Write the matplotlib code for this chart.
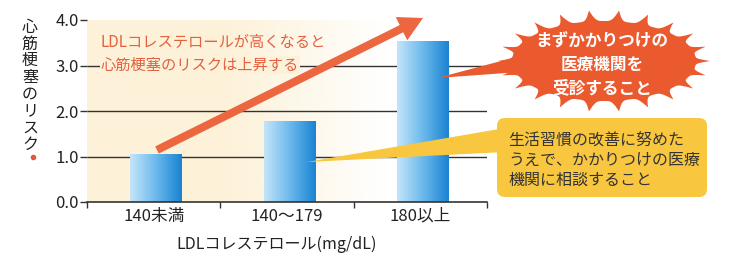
import numpy as np
import matplotlib
matplotlib.use("Agg")
import matplotlib.pyplot as plt
from matplotlib.colors import LinearSegmentedColormap
from matplotlib.patches import Polygon, FancyBboxPatch, FancyArrow

plt.rcParams['font.family'] = ['Noto Sans CJK JP', 'DejaVu Sans']

# data
categories = ['140未満', '140～179', '180以上']
risk = [1.05, 1.78, 3.52]
yticks = [0.0, 1.0, 2.0, 3.0, 4.0]
gridlines = [1.0, 2.0, 3.0]
ylabel = '心筋梗塞のリスク'
xlabel = 'LDLコレステロール(mg/dL)'
arrow_text = ['LDLコレステロールが高くなると', '心筋梗塞のリスクは上昇する']
burst_text = ['まずかかりつけの', '医療機関を', '受診すること']
note_text = ['生活習慣の改善に努めた', 'うえで、かかりつけの医療', '機関に相談すること']

W, H = 740, 265
CREAM = '#fdf2d9'
DARK = '#333333'
ORANGE = '#ec6640'
BURST = '#ea5a2e'
YELLOW = '#f8c73f'


def px(x0, y0, x1, y1):
    """pixel box (top-left origin) -> figure rect"""
    return [x0 / W, 1 - y1 / H, (x1 - x0) / W, (y1 - y0) / H]


fig = plt.figure(figsize=(W / 100, H / 100), dpi=100)
ax = fig.add_axes(px(87, 20, 487, 202))

# cream background fading to white on the right
g = np.linspace(0, 1, 400)
bg = np.ones((1, g.size, 4))
bg[..., :3] = matplotlib.colors.to_rgb(CREAM)
bg[0, :, 3] = np.clip((0.75 - g) / 0.4, 0, 1)
ax.imshow(bg, extent=[0, 1, 0, 1], transform=ax.transAxes, aspect='auto', zorder=0)

# gridlines behind bars
ax.hlines(gridlines, -0.5, 2.5, color=DARK, lw=1, zorder=1)

# bars with horizontal blue gradient
x = np.arange(len(categories))
bars = ax.bar(x + 0.02, risk, width=0.39, color='none', zorder=2)
cmap = LinearSegmentedColormap.from_list('bar', ['#c4e5fa', '#6bb9ec', '#1a83d1'])
grad = np.linspace(0, 1, 128).reshape(1, -1)
for b in bars:
    x0, w, h = b.get_x(), b.get_width(), b.get_height()
    ax.imshow(grad, cmap=cmap, extent=[x0, x0 + w, 0, h], aspect='auto', zorder=2)

ax.set_xlim(-0.5, 2.5)
ax.set_ylim(0, 4)

ax.set_yticks(yticks, labels=[f'{v:.1f}' for v in yticks])
ax.tick_params(axis='y', length=5, width=1, color=DARK, labelsize=12,
               labelcolor='#222222', pad=1)
ax.set_xticks(x, categories)
ax.tick_params(axis='x', which='major', length=0, labelsize=12,
               labelcolor='#222222', pad=4)
ax.set_xticks([-0.5, 0.5, 1.5, 2.5], minor=True)
ax.tick_params(axis='x', which='minor', length=4, width=1, color=DARK)
for s in ['left', 'top', 'right']:
    ax.spines[s].set_visible(False)
ax.spines['bottom'].set_color(DARK)
ax.spines['bottom'].set_linewidth(1.2)

ax.text(0.475, -0.235, xlabel, transform=ax.transAxes, ha='center', va='center',
        fontsize=11.5, color='#222222')

# overlay in pixel coordinates for the annotations
ov = fig.add_axes([0, 0, 1, 1], zorder=3)
ov.set_xlim(0, W)
ov.set_ylim(H, 0)
ov.axis('off')
ov.patch.set_alpha(0)

# vertical y label
ov.text(30, 86, '\n'.join(ylabel), ha='center', va='center', fontsize=11.5,
        linespacing=0.98, color='#222222')
ov.plot([33], [157], 'o', ms=3, color='#e8553a')

# big arrow
ov.add_patch(FancyArrow(157, 150, 423 - 157, 18 - 150, width=8, head_width=26,
                        head_length=24, length_includes_head=True,
                        color=ORANGE, lw=0))
ov.text(101, 43, arrow_text[0], ha='left', va='center', fontsize=11, color='#e3603f')
ov.text(101, 65, arrow_text[1], ha='left', va='center', fontsize=11, color='#e3603f',
        bbox=dict(fc=CREAM, ec='none', pad=0.5))

# yellow callout
ov.add_patch(Polygon([(307, 162), (505, 128), (505, 152)], closed=True, fc=YELLOW, ec='none'))
ov.add_patch(FancyBboxPatch((497, 118), 210, 79, boxstyle='round,pad=0,rounding_size=8',
                            fc=YELLOW, ec='none'))
for i, line in enumerate(note_text):
    ov.text(508, 140 + 20 * i, line, ha='left', va='center', fontsize=11.5, color='#333333')

# red burst callout
t = np.linspace(0, 2 * np.pi, 2000)
n = 22
f = (1 - np.abs(np.sin(n * t / 2))) ** 2
bx = 604 + (92 + 14 * f) * np.cos(t)
by = 61 + (40 + 11 * f) * np.sin(t)
ov.add_patch(Polygon([(437, 78), (520, 56), (520, 72)], closed=True, fc=BURST, ec='none'))
ov.add_patch(Polygon(np.column_stack([bx, by]), closed=True, fc=BURST, ec='none'))
for i, line in enumerate(burst_text):
    ov.text(602, 42 + 23 * i, line, ha='center', va='center', fontsize=12,
            fontweight='bold', color='white')

fig.savefig('out.png', dpi=100)
